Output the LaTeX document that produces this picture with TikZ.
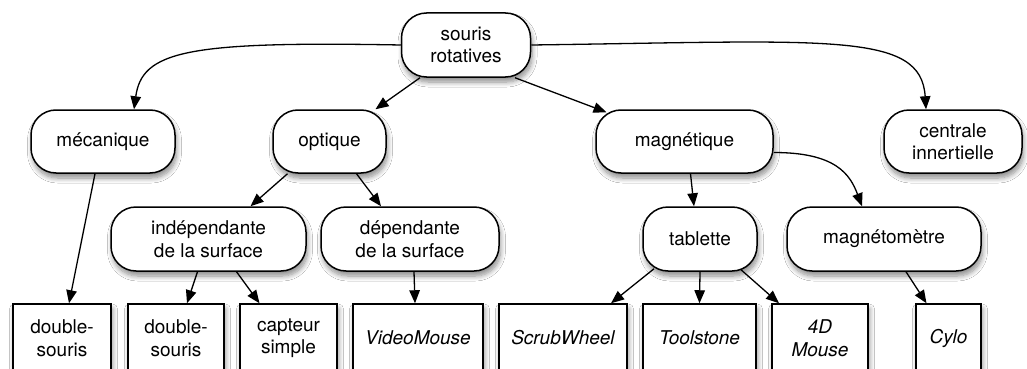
\documentclass[tikz,border=0pt]{standalone}
\usepackage{fontspec}
\setmainfont{TeX Gyre Heros}
\usetikzlibrary{arrows.meta,shadows.blur,calc}
\begin{document}
\begin{tikzpicture}[x=1pt,y=1pt,
  every node/.style={font=\fontsize{19}{22.5}\selectfont, align=center, inner sep=0pt},
  shad/.style={blur shadow={shadow xshift=1.5pt, shadow yshift=-5pt, shadow blur radius=5pt, shadow blur steps=8, shadow opacity=45}},
  rbox/.style={draw, fill=white, line width=1.5pt, rounded corners=25pt, minimum height=64pt, shad},
  sbox/.style={draw, fill=white, line width=1.5pt, minimum height=68pt, shad},
  arr/.style={line width=1.3pt, -{Triangle[length=13pt,width=10.5pt]}}]
\useasboundingbox (0,0) rectangle (1027,-369);
\clip (0,0) rectangle (1027,-369);
\fill[white] (0,0) rectangle (1027,-369);
% rounded nodes
\node[rbox, minimum width=129pt] (root) at (466,-45) {souris\\rotatives};
\node[rbox, minimum width=144pt, minimum height=63pt] (mec) at (103,-141.5) {mécanique};
\node[rbox, minimum width=113pt, minimum height=63pt] (opt) at (329.5,-141.5) {optique};
\node[rbox, minimum width=177pt, minimum height=63pt] (mag) at (684.5,-141.5) {magnétique};
\node[rbox, minimum width=138pt, minimum height=63pt] (cent) at (953,-141.5) {centrale\\innertielle};
\node[rbox, minimum width=195pt] (ind) at (208.5,-239) {indépendante\\de la surface};
\node[rbox, minimum width=178pt] (dep) at (410,-239) {dépendante\\de la surface};
\node[rbox, minimum width=114pt] (tab) at (700,-239) {tablette};
\node[rbox, minimum width=194pt] (mgm) at (884,-239) {magnétomètre};
% square nodes
\node[sbox, minimum width=98pt] (ds1) at (62,-338) {double-\\souris};
\node[sbox, minimum width=96pt] (ds2) at (176,-338) {double-\\souris};
\node[sbox, minimum width=97pt] (cap) at (288.5,-338) {capteur\\simple};
\node[sbox, minimum width=130pt] (vm) at (418,-338) {\itshape VideoMouse};
\node[sbox, minimum width=128pt] (sw) at (563,-338) {\itshape ScrubWheel};
\node[sbox, minimum width=113pt] (ts) at (699.5,-338) {\itshape Toolstone};
\node[sbox, minimum width=96pt] (fd) at (820,-338) {\itshape 4D\\\itshape Mouse};
\node[sbox, minimum width=65pt] (cy) at (948.5,-338) {\itshape Cylo};
% connectors
\draw[arr] (root.west) .. controls +(-215,4) and +(8,58) .. ([xshift=31pt]mec.north);
\draw[arr] (root.east) .. controls +(300,4) and +(-5,78) .. ([xshift=-27pt]cent.north);
\draw[arr] ([xshift=-46pt]root.south) -- ([xshift=46pt]opt.north);
\draw[arr] ([xshift=49pt]root.south) -- ([xshift=-78pt,yshift=-3pt]mag.north);
\draw[arr] ([xshift=-8pt]mec.south) -- ([xshift=7pt]ds1.north);
\draw[arr] ([xshift=-42pt]opt.south) -- ([xshift=42pt]ind.north);
\draw[arr] ([xshift=27pt]opt.south) -- ([xshift=-29pt]dep.north);
\draw[arr] ([xshift=6pt]mag.south) -- ([xshift=-6pt]tab.north);
\draw[arr] ([yshift=-11pt]mag.east) .. controls +(62,0) and +(-12,32) .. ([xshift=-22pt]mgm.north);
\draw[arr] ([xshift=-11pt]ind.south) -- ([xshift=11pt]ds2.north);
\draw[arr] ([xshift=28pt]ind.south) -- ([xshift=-29pt]cap.north);
\draw[arr] ([xshift=4pt]dep.south) -- ([xshift=-3pt]vm.north);
\draw[arr] ([xshift=-46pt,yshift=3pt]tab.south) -- ([xshift=48pt]sw.north);
\draw[arr] (tab.south) -- (ts.north);
\draw[arr] ([xshift=41pt,yshift=2pt]tab.south) -- ([xshift=-41pt]fd.north);
\draw[arr] ([xshift=22pt]mgm.south) -- ([xshift=-22pt]cy.north);
\end{tikzpicture}
\end{document}
